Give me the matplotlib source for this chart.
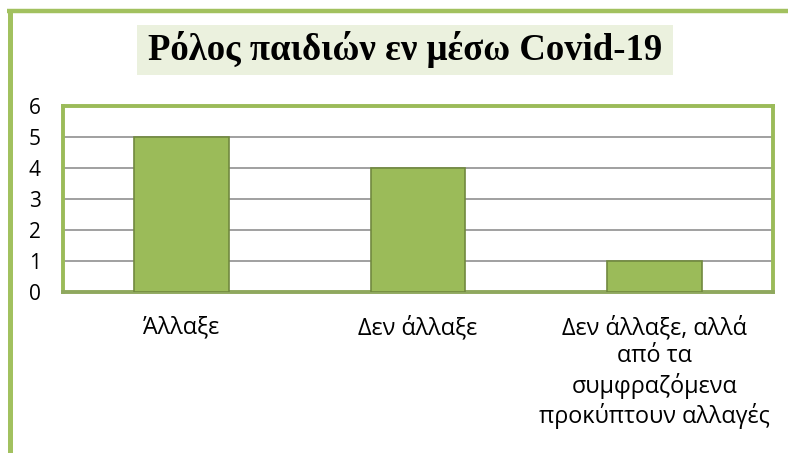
import matplotlib
matplotlib.use("Agg")
import matplotlib.pyplot as plt
from matplotlib.patches import Rectangle
from matplotlib.lines import Line2D

# data
categories = ["Άλλαξε", "Δεν άλλαξε",
              "Δεν άλλαξε, αλλά\nαπό τα\nσυμφραζόμενα\nπροκύπτουν αλλαγές"]
counts = [5, 4, 1]
yticks = [0, 1, 2, 3, 4, 5, 6]
title = "Ρόλος παιδιών εν μέσω Covid-19"

W, H = 788, 453
GREEN = "#9BBB59"
GREEN_DARK = "#71893F"
GRID = "#868686"

fig = plt.figure(figsize=(W / 100, H / 100), dpi=100)
fig.patch.set_facecolor("white")

# outer chart border (left + top, rest is cropped in the original)
fig.add_artist(Line2D([9.5 / W, 9.5 / W], [0, 1 - 9 / H], color="#A2C15F", lw=3.6,
                      transform=fig.transFigure, solid_capstyle="butt"))
fig.add_artist(Line2D([7 / W, 1], [1 - 11 / H, 1 - 11 / H], color="#A2C15F", lw=3.2,
                      transform=fig.transFigure, solid_capstyle="butt"))

# title with its shaded box
fig.add_artist(Rectangle((137 / W, 1 - 75 / H), (673 - 137) / W, 50 / H,
                         transform=fig.transFigure, facecolor="#EBF1DE", edgecolor="none"))
fig.text(405 / W, 1 - 49 / H, title, ha="center", va="center",
         fontsize=26.5, fontweight="bold", family="Liberation Serif", color="black")

ax = fig.add_axes([63 / W, 1 - 292 / H, (773 - 63) / W, (292 - 106) / H])
x = list(range(len(categories)))
ax.bar(x, counts, width=0.4, color=GREEN, edgecolor=GREEN_DARK, linewidth=1.2, zorder=3)
ax.set_xlim(-0.5, len(categories) - 0.5)
ax.set_ylim(0, 6)
ax.set_yticks(yticks)
ax.set_yticklabels([str(v) for v in yticks], family="Open Sans", fontsize=15)
ax.set_xticks(x)
ax.set_xticklabels(categories, family="Open Sans", fontsize=16.8, linespacing=1.22,
                   va="top")
ax.tick_params(axis="y", length=0, pad=16)
ax.tick_params(axis="x", length=0, pad=17)
for v in yticks[1:-1]:
    ax.axhline(v, color=GRID, lw=1.1, zorder=1)
for s in ax.spines.values():
    s.set_color(GREEN)
    s.set_linewidth(2.8)
ax.spines["bottom"].set_color("#8FA85E")

fig.savefig("out.png", dpi=100)
